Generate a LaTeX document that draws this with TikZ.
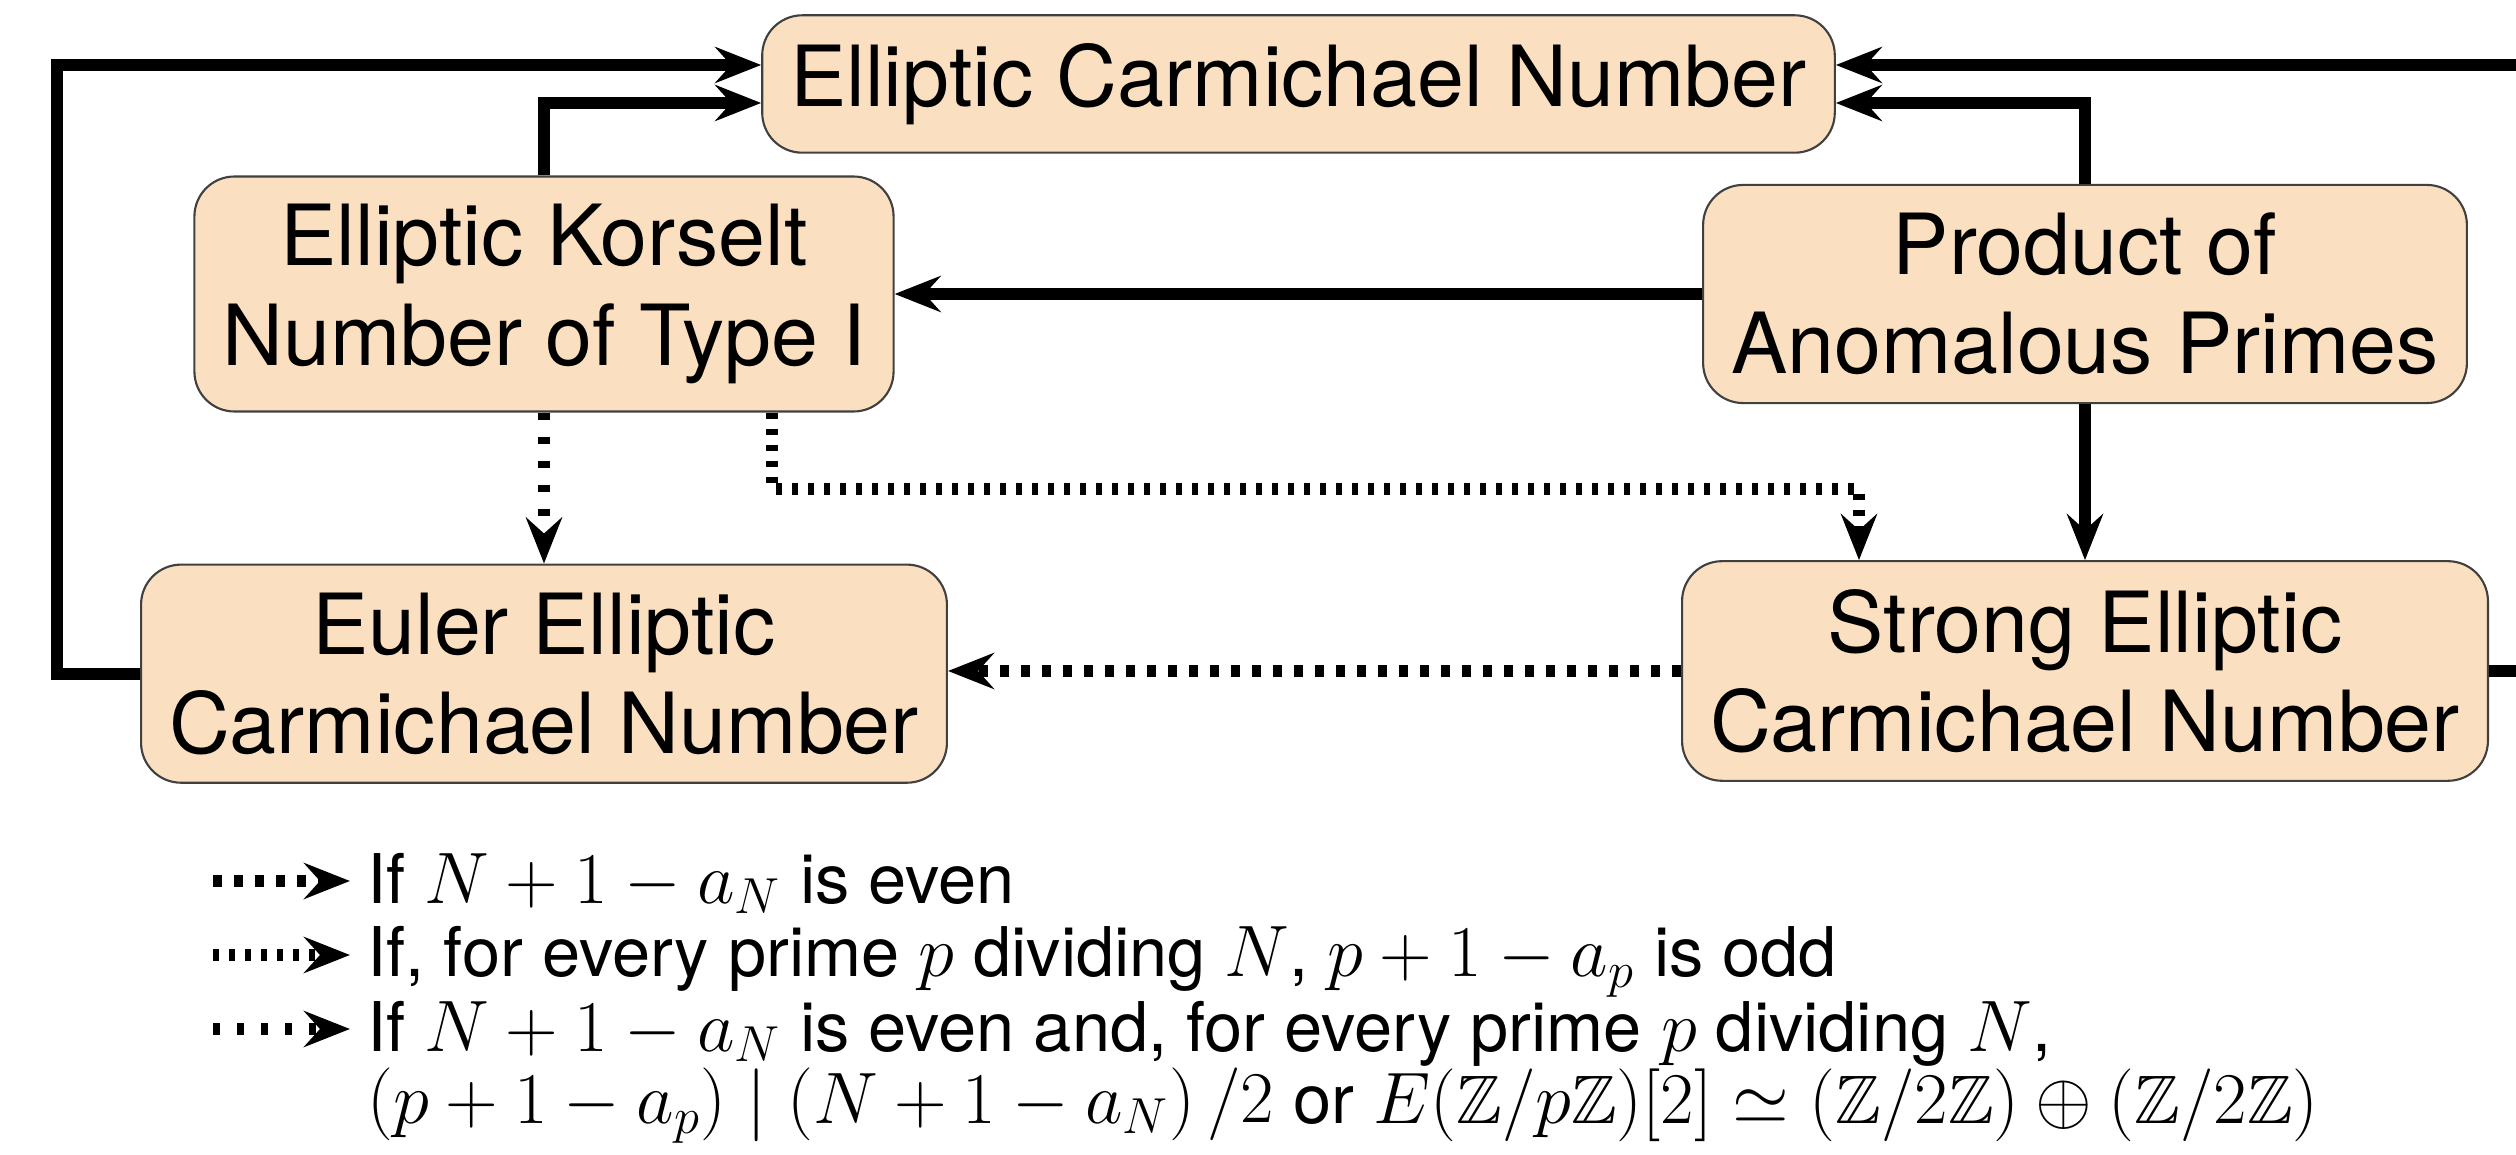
\documentclass[tikz,border=0pt]{standalone}
\usepackage{amsmath}
\usepackage{amssymb}
\usepackage{fontspec}
\setmainfont{TeX Gyre Heros}
\usetikzlibrary{arrows.meta, positioning}
\definecolor{boxpeach}{RGB}{250,224,192}

\begin{document}
\begin{tikzpicture}[
    every node/.style={font=\fontsize{24}{28.2}\selectfont},
    box/.style={
      rectangle, rounded corners=0.4cm, draw=black!75, line width=0.6pt,
      fill=boxpeach, align=center, inner sep=0.28cm
    },
    arrow/.style={-{Stealth[length=0.46cm, width=0.36cm, inset=0.16cm]}, line width=0.12cm},
    evenarrow/.style={arrow, dash pattern=on 0.09cm off 0.12cm},
    oddarrow/.style={arrow, dash pattern=on 0.06cm off 0.10cm},
    bothcond/.style={arrow, dash pattern=on 0.07cm off 0.17cm},
    legend/.style={anchor=base west, inner sep=0pt, font=\fontsize{19.5}{20.5}\selectfont}
  ]
    \useasboundingbox (0,0) rectangle (25.16,-11.55);
    \clip (0,0) rectangle (25.16,-11.55);

    \node[box] (ecn) at (12.985,-0.84) {Elliptic Carmichael Number};
    \node[box] (korselt) at (5.44,-2.94) {Elliptic Korselt\\Number of Type I};
    \node[box] (product) at (20.85,-2.94) {Product of\\Anomalous Primes};
    \node[box, below=1.51cm of korselt] (euler) {Euler Elliptic\\Carmichael Number};
    \node[box, below=1.56cm of product] (strong) {Strong Elliptic\\Carmichael Number};

    % implications
    \draw[arrow] (korselt.north) |- ([yshift=-0.19cm]ecn.west);
    \draw[arrow] (product.north) |- ([yshift=-0.19cm]ecn.east);
    \draw[arrow] (euler.west) -- ++(-0.83,0) |- ([yshift=0.19cm]ecn.west);
    \draw[arrow] (strong.east) -- ++(0.6,0) |- ([yshift=0.19cm]ecn.east);
    \draw[arrow] (product) -- (korselt);
    \draw[arrow] (product) -- (strong);
    \draw[bothcond] (korselt) -- (euler);
    \draw[oddarrow] ([xshift=2.28cm]korselt.south) -- ++(0,-0.76)
      -| ([xshift=-2.26cm]strong.north);
    \draw[evenarrow] (strong.west) -- (strong.west -| euler.east);

    % legend
    \node[legend] (cond1) at (3.67,-9.03) {If $N+1-a_N$ is even};
    \node[legend] (cond2) at (3.67,-9.77)
      {If, for every prime $p$ dividing $N$, $p+1-a_p$ is odd};
    \node[legend] (cond3) at (3.67,-10.51)
      {If $N+1-a_N$ is even and, for every prime $p$ dividing $N$,};
    \node[legend] (cond3b) at (3.67,-11.23)
      {$\left(p+1-a_p\right) \mid \left(N+1-a_N\right)/2$ or
       $E(\mathbb{Z}/p\mathbb{Z})[2] \simeq (\mathbb{Z}/2\mathbb{Z}) \oplus (\mathbb{Z}/2\mathbb{Z})$};

    \draw[evenarrow] ([shift={(-1.54,0.22)}]cond1.base west) -- ([shift={(-0.17,0.22)}]cond1.base west);
    \draw[oddarrow] ([shift={(-1.54,0.22)}]cond2.base west) -- ([shift={(-0.17,0.22)}]cond2.base west);
    \draw[bothcond] ([shift={(-1.54,0.22)}]cond3.base west) -- ([shift={(-0.17,0.22)}]cond3.base west);
  \end{tikzpicture}
\end{document}
